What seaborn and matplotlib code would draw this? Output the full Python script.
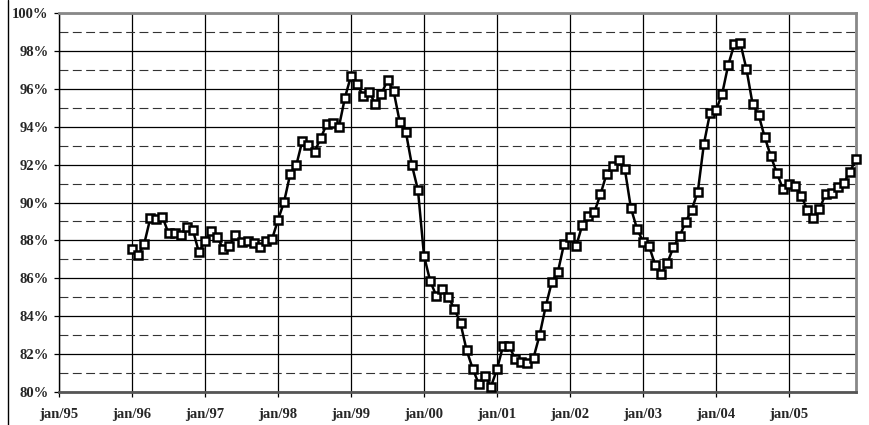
import numpy as np
import pandas as pd
import matplotlib
matplotlib.use("Agg")
import matplotlib.pyplot as plt
import seaborn as sns
from matplotlib.ticker import MultipleLocator, FixedLocator, FuncFormatter
from matplotlib.lines import Line2D

# ---- data (monthly, jan/96 .. dec/05), in percent ----
v1996 = [87.55, 87.21, 87.81, 89.16, 89.11, 89.25, 88.37, 88.37, 88.27, 88.72, 88.55, 87.37]
v1997 = [87.98, 88.50, 88.20, 87.53, 87.70, 88.27, 87.94, 87.96, 87.88, 87.63, 87.96, 88.05]
v1998 = [89.08, 90.04, 91.50, 91.96, 93.26, 93.05, 92.68, 93.38, 94.14, 94.21, 93.98, 95.53]
v1999 = [96.69, 96.24, 95.62, 95.85, 95.18, 95.74, 96.45, 95.88, 94.26, 93.74, 91.98, 90.66]
v2000 = [87.18, 85.87, 85.08, 85.42, 85.01, 84.38, 83.62, 82.20, 81.23, 80.42, 80.86, 80.28]
v2001 = [81.21, 82.44, 82.43, 81.72, 81.60, 81.55, 81.81, 83.01, 84.52, 85.80, 86.33, 87.80]
v2002 = [88.20, 87.70, 88.80, 89.31, 89.50, 90.43, 91.50, 91.93, 92.23, 91.77, 89.71, 88.62]
v2003 = [87.93, 87.69, 86.69, 86.23, 86.82, 87.65, 88.22, 88.97, 89.62, 90.57, 93.09, 94.71]
v2004 = [94.88, 95.73, 97.26, 98.35, 98.40, 97.03, 95.20, 94.62, 93.44, 92.45, 91.54, 90.71]
v2005 = [90.98, 90.89, 90.36, 89.60, 89.18, 89.64, 90.46, 90.52, 90.83, 91.04, 91.61, 92.30]

years = [1996, 1997, 1998, 1999, 2000, 2001, 2002, 2003, 2004, 2005]
series = [v1996, v1997, v1998, v1999, v2000, v2001, v2002, v2003, v2004, v2005]
tick_labels = ["jan/95", "jan/96", "jan/97", "jan/98", "jan/99", "jan/00",
               "jan/01", "jan/02", "jan/03", "jan/04", "jan/05"]

# months counted from jan/95
month_idx = []
values = []
for y, vals in zip(years, series):
    for m, v in enumerate(vals):
        month_idx.append((y - 1995) * 12 + m)
        values.append(v)
df = pd.DataFrame({"month": month_idx, "value": values})

sns.set_style("white")
plt.rcParams["font.family"] = ["Liberation Serif", "DejaVu Serif"]

fig = plt.figure(figsize=(8.7, 4.25), dpi=100)
ax = fig.add_axes([59 / 870, 1 - 392 / 425, (856 - 59) / 870, (392 - 13) / 425])

sns.lineplot(data=df, x="month", y="value", ax=ax, color="black", linewidth=1.8,
             marker="s", markersize=5.6, markerfacecolor="white",
             markeredgecolor="black", markeredgewidth=1.8, clip_on=False, zorder=5)

ax.set_xlim(0, 131)
ax.set_ylim(80, 100)
ax.xaxis.set_major_locator(FixedLocator([12 * i for i in range(len(tick_labels))]))
ax.set_xticklabels(tick_labels)
ax.yaxis.set_major_locator(MultipleLocator(2))
ax.yaxis.set_minor_locator(MultipleLocator(1))
ax.yaxis.set_major_formatter(FuncFormatter(lambda v, p: f"{v:.0f}%"))

ax.set_xlabel("")
ax.set_ylabel("")

ax.grid(True, which="major", axis="both", color="black", linewidth=0.9, linestyle="-")
ax.grid(True, which="minor", axis="y", color="#333333", linewidth=0.8,
        linestyle=(0, (8, 4)))
ax.set_axisbelow(True)

ax.tick_params(axis="both", which="major", direction="out", length=3.5, width=0.9,
               color="black", labelsize=10.5)
ax.tick_params(axis="y", which="major", pad=4, left=True)
ax.tick_params(axis="x", which="major", pad=8, bottom=True)
ax.tick_params(which="minor", length=0)
for lab in ax.get_xticklabels() + ax.get_yticklabels():
    lab.set_fontweight("bold")

ax.spines["left"].set_color("black")
ax.spines["left"].set_linewidth(1.0)
ax.spines["bottom"].set_color("#555555")
ax.spines["bottom"].set_linewidth(2.0)
ax.spines["top"].set_color("#888888")
ax.spines["top"].set_linewidth(2.0)
ax.spines["right"].set_color("#888888")
ax.spines["right"].set_linewidth(2.0)
for s in ax.spines.values():
    s.set_visible(True)
    s.set_zorder(4)

# outer frame line of the chart object on the left
fig.add_artist(Line2D([8 / 870, 8 / 870], [0, 1], transform=fig.transFigure,
                      color="black", linewidth=1.0))

fig.savefig("out.png", dpi=100)
